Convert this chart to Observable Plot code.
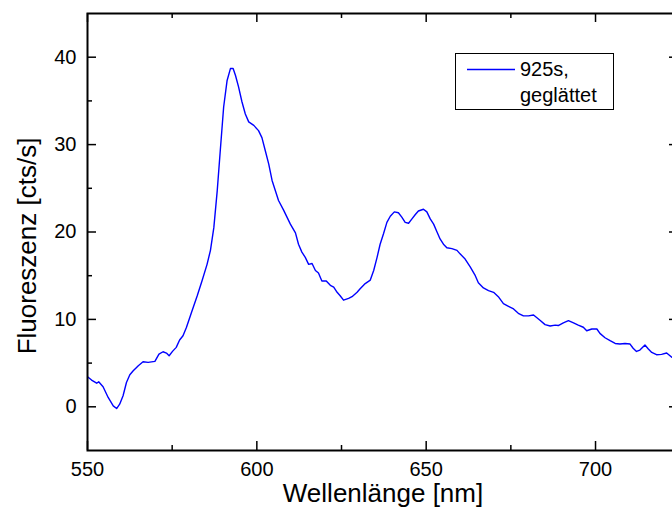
<!DOCTYPE html>
<html>
<head>
<meta charset="utf-8">
<script src="https://cdn.jsdelivr.net/npm/d3@7"></script>
<script src="https://cdn.jsdelivr.net/npm/@observablehq/plot@0.6"></script>
<style>
  html, body { margin: 0; padding: 0; overflow: hidden; background: white; }
  #wrap { position: relative; width: 672px; height: 507px; overflow: hidden; }
  #legend {
    position: absolute; left: 455px; top: 53px; width: 157px; height: 55px;
    border: 1px solid #000; background: white;
    font-family: "Liberation Sans", Arial, sans-serif; font-size: 20px; color: #000;
  }
  #legend svg { position: absolute; left: 0; top: 0; }
  #legend .t1 { position: absolute; left: 64px; top: 3px; line-height: 24px; }
  #legend .t2 { position: absolute; left: 64px; top: 29px; line-height: 24px; }
</style>
</head>
<body>
<div id="wrap"></div>
<script>
const wavelength = [550,551.2,552.7,553.3,554.6,556.1,557.6,558.6,559.5,560.5,561.5,562.5,563.5,565,566.4,567.9,569.9,571.1,572.3,573.3,574.1,575.1,576.2,577.2,578.2,579.2,580.8,582.4,583.8,585.3,586.3,587.3,588.3,589.2,590.2,591.2,592.2,593,593.7,594.6,595.6,596.6,597.6,599.1,600.5,601.5,602.5,603.5,604.5,605.5,606.4,607.9,608.9,609.9,611.4,612.3,613.3,614.3,615.3,616.3,617.3,618.2,619.2,620.5,621.7,622.7,623.7,624.6,625.6,627.1,628.1,629.6,630.5,632,633.5,634.5,635.5,636.4,637.4,638.4,639.4,640.6,641.8,642.8,643.8,644.8,645.8,646.8,647.7,649.2,650.2,651.2,652.2,653.2,654.1,655.1,656.1,657.6,659.1,660,661.5,663,664.5,665.4,666.9,668.4,669.9,671.3,672.8,674.3,675.8,677.2,678.7,680.2,681.7,683.6,685.1,686.6,688.1,689,690.5,692,693.5,694.9,696.4,697.4,698.9,700.4,701.3,702.8,704.3,705.8,707.2,708.7,710.2,711.1,712.1,713.1,714.6,715.6,716.6,718,719.5,721,722.6,724.5];
const counts = [3.44,3.06,2.7,2.86,2.29,1.07,0.11,-0.2,0.3,1.26,2.78,3.66,4.12,4.7,5.15,5.08,5.2,6.03,6.3,6.15,5.84,6.34,6.8,7.64,8.13,9.08,10.9,12.7,14.4,16.3,17.9,20.5,24.7,29.3,34.3,37.3,38.7,38.7,37.9,36.6,34.9,33.5,32.6,32.2,31.6,30.8,29.3,27.8,25.9,24.7,23.6,22.5,21.7,20.9,19.9,18.6,17.7,17.1,16.3,16.4,15.6,15.3,14.4,14.4,13.9,13.7,13.1,12.7,12.2,12.4,12.6,13.1,13.5,14.1,14.5,15.6,17.1,18.6,19.8,21.1,21.8,22.3,22.2,21.7,21.1,21.0,21.5,22.0,22.4,22.6,22.3,21.5,20.9,20.0,19.2,18.6,18.2,18.1,17.9,17.5,16.9,16.0,15.0,14.2,13.6,13.3,13.1,12.6,11.8,11.5,11.2,10.7,10.4,10.4,10.5,9.9,9.4,9.24,9.35,9.3,9.6,9.85,9.6,9.35,9.1,8.7,8.9,8.9,8.4,7.9,7.56,7.25,7.18,7.25,7.18,6.7,6.33,6.49,7.07,6.61,6.22,5.96,6.0,6.15,5.65,5.8];
const xMajor = [550, 600, 650, 700];
const xMinor = [575, 625, 675];
const yMajor = [0, 10, 20, 30, 40];
const yMinor = [5, 15, 25, 35];
const xTitle = "Wellenlänge [nm]";
const yTitle = "Fluoreszenz [cts/s]";
const seriesName = ["925s,", "geglättet"];
const lineColor = "#0000ff";

const data = wavelength.map((w, i) => ({w, c: counts[i]}));

const W = 700, H = 507, mt = 13, mb = 57, ml = 87, mr = 22;
const pw = W - ml - mr, ph = H - mt - mb;
const font = "Liberation Sans, Arial, sans-serif";

const chart = Plot.plot({
  width: W, height: H,
  marginTop: mt, marginBottom: mb, marginLeft: ml, marginRight: mr,
  style: {maxWidth: "none", fontFamily: font, background: "white", overflow: "visible"},
  x: {domain: [550, 724.5], axis: null},
  y: {domain: [-5, 45], axis: null},
  marks: [
    Plot.line(data, {x: "w", y: "c", stroke: lineColor, strokeWidth: 1.4, clip: true}),
    // bottom ticks (inward)
    Plot.tickX(xMajor, {x: d => d, insetTop: ph - 9, stroke: "black", strokeWidth: 1.5}),
    Plot.tickX(xMinor, {x: d => d, insetTop: ph - 5, stroke: "black", strokeWidth: 1.5}),
    // top ticks
    Plot.tickX(xMajor, {x: d => d, insetBottom: ph - 9, stroke: "black", strokeWidth: 1.5}),
    Plot.tickX(xMinor, {x: d => d, insetBottom: ph - 5, stroke: "black", strokeWidth: 1.5}),
    // left ticks
    Plot.tickY(yMajor, {y: d => d, insetRight: pw - 9, stroke: "black", strokeWidth: 1.5}),
    Plot.tickY(yMinor, {y: d => d, insetRight: pw - 5, stroke: "black", strokeWidth: 1.5}),
    // right ticks
    Plot.tickY(yMajor, {y: d => d, insetLeft: pw - 9, stroke: "black", strokeWidth: 1.5}),
    Plot.tickY(yMinor, {y: d => d, insetLeft: pw - 5, stroke: "black", strokeWidth: 1.5}),
    Plot.frame({stroke: "black", strokeWidth: 2}),
    // tick labels
    Plot.text(xMajor, {x: d => d, text: d => String(d), frameAnchor: "bottom", lineAnchor: "middle", dy: 19, fontSize: 20, fill: "black"}),
    Plot.text(yMajor, {y: d => d, text: d => String(d), frameAnchor: "left", textAnchor: "end", dx: -11, fontSize: 20, fill: "black"}),
    // axis titles
    Plot.text([xTitle], {text: d => d, frameAnchor: "bottom", lineAnchor: "middle", dy: 43, fontSize: 26, fill: "black"}),
    Plot.text([yTitle], {text: d => d, frameAnchor: "left", textAnchor: "middle", rotate: -90, dx: -60, dy: 14, fontSize: 26, fill: "black"})
  ]
});

const wrap = document.getElementById("wrap");
wrap.appendChild(chart);
const leg = document.createElement("div");
leg.id = "legend";
leg.innerHTML = `<svg width="157" height="55"><line x1="11" x2="59" y1="15.5" y2="15.5" stroke="${lineColor}" stroke-width="1.4"/></svg><div class="t1">${seriesName[0]}</div><div class="t2">${seriesName[1]}</div>`;
wrap.appendChild(leg);
</script>
</body>
</html>
